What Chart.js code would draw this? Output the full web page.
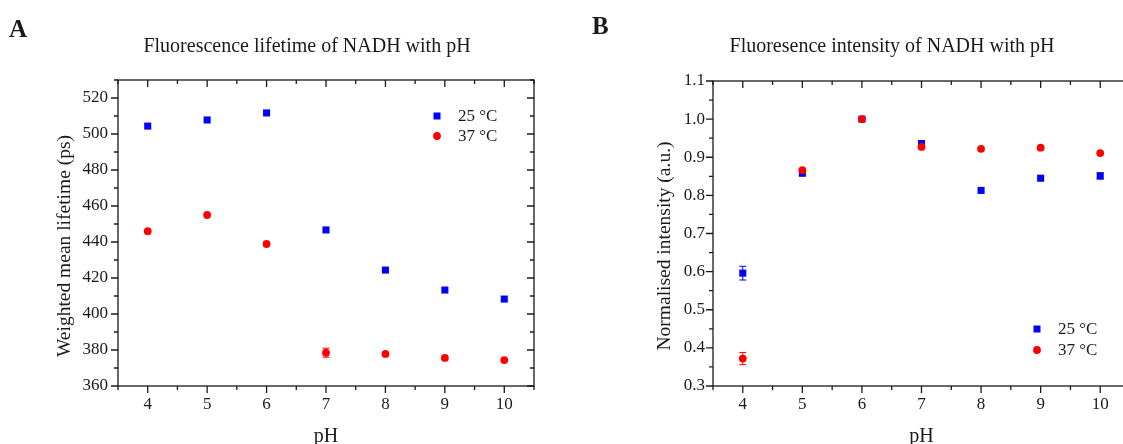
<!DOCTYPE html>
<html>
<head>
<meta charset="utf-8">
<script src="https://cdn.jsdelivr.net/npm/chart.js@4.4.1/dist/chart.umd.min.js"></script>
<style>
  html, body { margin: 0; padding: 0; background: #fff; overflow: hidden; width: 1123px; height: 444px; }
  .wrap { position: absolute; top: 0; height: 444px; }
  .txt { position: absolute; font-family: "Liberation Serif", "Times New Roman", serif; color: #1a1a1a; white-space: nowrap; line-height: 1; }
  .title { font-size: 20px; transform: translate(-50%, -50%); }
  .letter { font-size: 25px; font-weight: bold; transform: translate(0, -50%); }
</style>
</head>
<body>
<div class="wrap" style="left:0;width:560px;"><canvas id="c1" width="560" height="444"></canvas></div>
<div class="wrap" style="left:560px;width:600px;"><canvas id="c2" width="600" height="444"></canvas></div>
<div class="txt letter" style="left:9px;top:28px;">A</div>
<div class="txt letter" style="left:592px;top:25px;">B</div>
<div class="txt title" style="left:307px;top:45px;">Fluorescence lifetime of NADH with pH</div>
<div class="txt title" style="left:892px;top:45px;">Fluoresence intensity of NADH with pH</div>
<script>
// ---- data ----
const phValues = [4, 5, 6, 7, 8, 9, 10];
const lifetime25 = [504.4, 507.8, 511.7, 446.7, 424.4, 413.3, 408.3];
const lifetime37 = [446.0, 455.0, 438.9, 378.5, 377.8, 375.6, 374.4];
const lifetimeErr25 = [0, 0, 0, 0, 0, 0, 0];
const lifetimeErr37 = [0, 0, 0, 2.5, 0, 0, 0];
const intensity25 = [0.596, 0.858, 1.0, 0.936, 0.813, 0.845, 0.851];
const intensity37 = [0.372, 0.866, 1.0, 0.927, 0.922, 0.925, 0.911];
const intensityErr25 = [0.018, 0, 0, 0, 0, 0, 0.008];
const intensityErr37 = [0.016, 0, 0, 0, 0, 0, 0];
const seriesLabels = ['25 \u00B0C', '37 \u00B0C'];
const xAxisTitle = 'pH';
const yTitleLeft = 'Weighted mean lifetime (ps)';
const yTitleRight = 'Normalised intensity (a.u.)';

const FONT = '"Liberation Serif", "Times New Roman", serif';
const INK = '#1a1a1a';
const BLUE = '#0000ff';
const RED = '#ff0000';

function pts(vals) { return phValues.map((x, i) => ({ x: x, y: vals[i] })); }

function isMajor(v, step) { const r = v / step; return Math.abs(r - Math.round(r)) < 1e-6; }

const framePlugin = {
  id: 'frameTicks',
  afterDatasetsDraw(chart, args, opts) {
    const { ctx, chartArea: a, scales: { x, y } } = chart;
    ctx.save();
    ctx.strokeStyle = INK;
    ctx.lineWidth = 1.3;
    ctx.strokeRect(a.left, a.top, a.right - a.left, a.bottom - a.top);
    ctx.beginPath();
    x.ticks.forEach(t => {
      const px = x.getPixelForValue(t.value);
      const L = isMajor(t.value, 1) ? 7 : 4;
      ctx.moveTo(px, a.bottom); ctx.lineTo(px, a.bottom + L);
      ctx.moveTo(px, a.top); ctx.lineTo(px, a.top + L);
    });
    y.ticks.forEach(t => {
      const py = y.getPixelForValue(t.value);
      const L = isMajor(t.value, opts.yMajor) ? 7 : 4;
      ctx.moveTo(a.left, py); ctx.lineTo(a.left - L, py);
      ctx.moveTo(a.right, py); ctx.lineTo(a.right - L, py);
    });
    ctx.stroke();
    ctx.restore();
  }
};

const errorPlugin = {
  id: 'errBars',
  afterDatasetsDraw(chart) {
    const { ctx, scales: { x, y } } = chart;
    ctx.save();
    ctx.lineWidth = 1;
    chart.data.datasets.forEach(ds => {
      const errs = ds.errors || [];
      ctx.strokeStyle = ds.backgroundColor;
      ds.data.forEach((p, i) => {
        const e = errs[i];
        if (!e) return;
        const px = x.getPixelForValue(p.x);
        const y1 = y.getPixelForValue(p.y - e);
        const y2 = y.getPixelForValue(p.y + e);
        ctx.beginPath();
        ctx.moveTo(px, y1); ctx.lineTo(px, y2);
        ctx.moveTo(px - 3.5, y1); ctx.lineTo(px + 3.5, y1);
        ctx.moveTo(px - 3.5, y2); ctx.lineTo(px + 3.5, y2);
        ctx.stroke();
      });
    });
    ctx.restore();
  }
};

const legendPlugin = {
  id: 'boxLegend',
  afterDraw(chart, args, opts) {
    const { ctx } = chart;
    ctx.save();
    ctx.font = '17px ' + FONT;
    ctx.textBaseline = 'middle';
    const rows = [
      { style: 'rect', color: BLUE, label: seriesLabels[0] },
      { style: 'circle', color: RED, label: seriesLabels[1] }
    ];
    rows.forEach((r, i) => {
      const cy = opts.y + i * opts.gap;
      ctx.fillStyle = r.color;
      if (r.style === 'rect') {
        ctx.fillRect(opts.x - 3.5, cy - 3.5, 7, 7);
      } else {
        ctx.beginPath(); ctx.arc(opts.x, cy, 3.9, 0, Math.PI * 2); ctx.fill();
      }
      ctx.fillStyle = INK;
      ctx.fillText(r.label, opts.x + 21, cy + 1);
    });
    ctx.restore();
  }
};

const yTitlePlugin = {
  id: 'yTitle',
  afterDraw(chart, args, opts) {
    const { ctx } = chart;
    ctx.save();
    ctx.font = '19.5px ' + FONT;
    ctx.fillStyle = INK;
    ctx.textAlign = 'center';
    ctx.textBaseline = 'middle';
    ctx.translate(opts.x, opts.y);
    ctx.rotate(-Math.PI / 2);
    ctx.fillText(opts.text, 0, 0);
    ctx.restore();
  }
};

function makeChart(id, cfg) {
  return new Chart(document.getElementById(id), {
    type: 'scatter',
    data: {
      datasets: [
        { label: seriesLabels[0], data: pts(cfg.s25), errors: cfg.e25, order: 1,
          pointStyle: 'rect', pointRadius: 5, pointHoverRadius: 5, backgroundColor: BLUE, borderColor: BLUE, borderWidth: 0 },
        { label: seriesLabels[1], data: pts(cfg.s37), errors: cfg.e37, order: 0,
          pointStyle: 'circle', pointRadius: 3.9, pointHoverRadius: 3.9, backgroundColor: RED, borderColor: RED, borderWidth: 0 }
      ]
    },
    options: {
      responsive: false,
      animation: false,
      layout: { padding: { top: cfg.top, right: cfg.right, left: 0, bottom: 0 } },
      plugins: {
        legend: { display: false },
        tooltip: { enabled: false },
        title: { display: false },
        frameTicks: { yMajor: cfg.yMajor },
        boxLegend: cfg.legend,
        yTitle: { text: cfg.ytitle, x: cfg.ytitleX, y: 246 }
      },
      scales: {
        x: {
          type: 'linear', min: 3.5, max: 10.5,
          grid: { display: false, drawTicks: false }, border: { display: false },
          afterFit: s => { s.height = 58; },
          ticks: {
            stepSize: 0.5, autoSkip: false, maxRotation: 0, padding: 8,
            color: INK, font: { family: FONT, size: 17 },
            callback: v => (isMajor(v, 1) && v >= 4 && v <= 10) ? String(v) : ''
          },
          title: { display: true, text: xAxisTitle, color: INK, font: { family: FONT, size: 20, lineHeight: 1 }, padding: { top: 0, bottom: -3 } }
        },
        y: {
          type: 'linear', min: cfg.ymin, max: cfg.ymax,
          grid: { display: false, drawTicks: false }, border: { display: false },
          afterFit: s => { s.width = cfg.left; },
          ticks: {
            stepSize: cfg.yMinor, autoSkip: false, padding: cfg.ypad,
            color: INK, font: { family: FONT, size: 17 },
            callback: v => isMajor(v, cfg.yMajor) ? cfg.fmt(v) : ''
          },
          title: { display: false }
        }
      }
    },
    plugins: [errorPlugin, framePlugin, legendPlugin, yTitlePlugin]
  });
}

makeChart('c1', {
  s25: lifetime25, s37: lifetime37, e25: lifetimeErr25, e37: lifetimeErr37,
  ymin: 360, ymax: 530, yMajor: 20, yMinor: 10, fmt: v => String(Math.round(v)),
  ytitle: yTitleLeft, ytitleX: 65, left: 118, right: 26, top: 80, ypad: 10,
  legend: { x: 437, y: 116, gap: 20 }
});

makeChart('c2', {
  s25: intensity25, s37: intensity37, e25: intensityErr25, e37: intensityErr37,
  ymin: 0.3, ymax: 1.1, yMajor: 0.1, yMinor: 0.05, fmt: v => v.toFixed(1),
  ytitle: yTitleRight, ytitleX: 105, left: 153, right: 30, top: 81, ypad: 8,
  legend: { x: 477, y: 329, gap: 21 }
});
</script>
</body>
</html>
